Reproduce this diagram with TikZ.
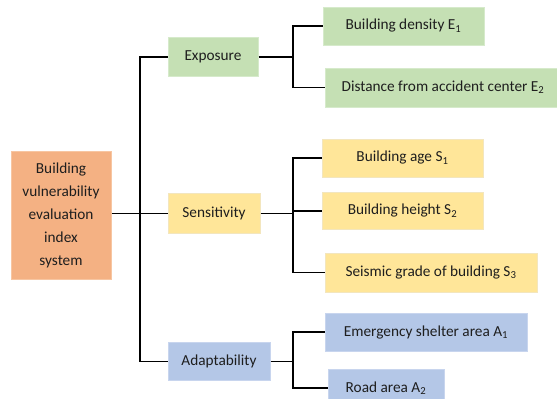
\documentclass[tikz,border=0pt]{standalone}
\usepackage{fontspec}
\setmainfont{Carlito}
\definecolor{gfill}{HTML}{C5E0B4}
\definecolor{gedge}{HTML}{D6EACB}
\definecolor{yfill}{HTML}{FFE699}
\definecolor{yedge}{HTML}{F3E6BE}
\definecolor{bfill}{HTML}{B4C7E7}
\definecolor{bedge}{HTML}{C8D5EE}
\definecolor{ofill}{HTML}{F4B183}
\definecolor{oedge}{HTML}{F7C6A2}
\definecolor{txt}{HTML}{1E1E1E}
\tikzset{
  box/.style={rectangle, inner sep=0pt, line width=1pt, text=txt,
    font=\fontsize{15.3}{23}\selectfont, align=center},
  gbox/.style={box, fill=gfill, draw=gedge},
  ybox/.style={box, fill=yfill, draw=yedge},
  bbox/.style={box, fill=bfill, draw=bedge},
  obox/.style={box, fill=ofill, draw=oedge},
  conn/.style={draw=black, line width=1.3pt}
}
\begin{document}
\begin{tikzpicture}[x=1pt,y=-1pt]
\useasboundingbox (0,0) rectangle (557,399);
\clip (0,0) rectangle (557,399);
% root
\node[obox, minimum width=100pt, minimum height=128pt] (root) at (61,215.5)
  {Building\\vulnerability\\evaluation\\index\\system};
% level 1
\node[gbox, minimum width=90pt, minimum height=39pt] (exp) at (213,57) {Exposure};
\node[ybox, minimum width=92pt, minimum height=40pt] (sen) at (214,213.5) {Sensitivity};
\node[bbox, minimum width=102pt, minimum height=38pt] (ada) at (219,361.5) {Adaptability};
% level 2
\node[gbox, minimum width=161pt, minimum height=38pt] (e1) at (403.5,26) {Building density E\textsubscript{1}};
\node[gbox, minimum width=236pt, minimum height=39pt] (e2) at (443,87.5) {Distance from accident center E\textsubscript{2}};
\node[ybox, minimum width=161pt, minimum height=38pt] (s1) at (402.5,158) {Building age S\textsubscript{1}};
\node[ybox, minimum width=161pt, minimum height=37pt] (s2) at (402.5,211) {Building height S\textsubscript{2}};
\node[ybox, minimum width=212pt, minimum height=39pt] (s3) at (431,272.5) {Seismic grade of building S\textsubscript{3}};
\node[bbox, minimum width=202pt, minimum height=38pt] (a1) at (426,332) {Emergency shelter area A\textsubscript{1}};
\node[bbox, minimum width=116pt, minimum height=38pt] (a2) at (386,388) {Road area A\textsubscript{2}};
% connectors
\coordinate (tr) at (140,0);
\coordinate (bx) at (293,0);
\draw[conn] (exp.west) -- (exp.west -| tr) -- (ada.west -| tr) -- (ada.west);
\draw[conn] (root.east |- sen.west) -- (sen.west);
\draw[conn] (exp.east) -- (exp.east -| bx);
\draw[conn] (e1.west) -- (e1.west -| bx) -- (e2.west -| bx) -- (e2.west);
\draw[conn] (sen.east) -- (sen.east -| bx);
\draw[conn] (s1.west) -- (s1.west -| bx) -- (s3.west -| bx) -- (s3.west);
\draw[conn] (s2.west -| bx) -- (s2.west);
\draw[conn] (ada.east) -- (ada.east -| bx);
\draw[conn] (a1.west) -- (a1.west -| bx) -- (a2.west -| bx) -- (a2.west);
\end{tikzpicture}
\end{document}
